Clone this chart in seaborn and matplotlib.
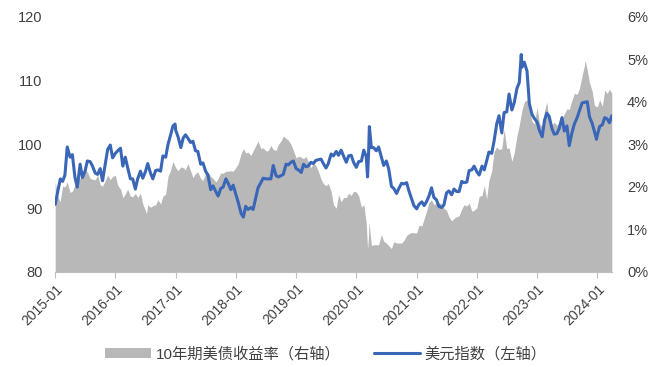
import matplotlib
matplotlib.use("Agg")
import matplotlib.pyplot as plt
import matplotlib.dates as mdates
from matplotlib.patches import Patch
from matplotlib.lines import Line2D
from matplotlib.ticker import FuncFormatter
import numpy as np
import pandas as pd
import seaborn as sns

# US dollar index, sampled on the 1st and 15th of each month (left axis)
dxy_2015 = [90.6, 92.4, 94.6, 94.2, 95.2, 99.6, 98.0, 98.4, 94.8, 93.3, 96.9, 94.8,
            95.8, 97.4, 97.3, 96.6, 95.5, 95.3, 96.2, 94.3, 97.0, 99.2, 99.9, 97.9]
dxy_2016 = [98.6, 99.0, 99.4, 96.6, 98.0, 96.4, 94.6, 94.6, 93.0, 94.6, 95.8, 94.7,
            95.7, 97.0, 95.5, 94.6, 95.9, 96.0, 95.8, 98.2, 98.0, 100.0, 101.5, 102.9]
dxy_2017 = [102.2, 101.2, 99.5, 101.0, 101.5, 101.0, 100.3, 100.5, 99.0, 98.9, 96.9, 97.1,
            95.8, 95.2, 92.9, 93.5, 92.6, 91.9, 93.1, 93.3, 94.6, 93.9, 92.9, 93.6]
dxy_2018 = [92.1, 90.9, 89.2, 88.6, 90.3, 89.8, 90.1, 89.8, 91.6, 93.2, 94.0, 94.7,
            94.6, 94.6, 94.6, 96.7, 95.1, 94.9, 95.1, 95.3, 96.9, 96.8, 97.2, 97.4]
dxy_2019 = [96.2, 96.0, 95.6, 96.9, 96.5, 96.6, 97.2, 97.0, 97.5, 97.6, 97.7, 97.0,
            96.3, 97.0, 98.5, 98.2, 98.9, 98.3, 99.1, 98.2, 97.2, 98.2, 98.3, 97.2]
dxy_2020 = [96.4, 97.3, 97.4, 99.1, 98.1, 98.5, 99.5, 99.5, 99.0, 99.6, 98.0, 96.7,
            97.4, 96.2, 93.4, 93.1, 92.3, 93.1, 93.9, 93.8, 94.0, 92.7, 91.5, 90.4]
dxy_2021 = [89.9, 90.6, 91.0, 90.4, 91.0, 91.8, 93.2, 91.7, 91.3, 90.3, 90.1, 90.5,
            92.4, 92.7, 92.1, 93.0, 92.6, 92.6, 94.2, 94.0, 94.1, 95.9, 96.0, 96.6]
dxy_2022 = [95.7, 95.2, 96.6, 96.0, 97.4, 98.8, 98.6, 100.5, 103.2, 104.5, 101.8, 105.0,
            105.1, 107.9, 105.4, 106.5, 108.8, 109.7, 112.1, 112.9, 111.5, 106.4, 104.7, 104.1]
dxy_2023 = [103.5, 102.2, 101.2, 103.8, 104.9, 104.4, 102.5, 101.6, 101.7, 102.5, 104.2, 102.1,
            102.9, 99.8, 101.9, 103.2, 104.2, 105.3, 106.5, 106.6, 106.7, 104.3, 103.3, 102.0]
dxy_2024 = [101.4, 102.8, 103.1, 104.2, 104.0, 103.4]
dxy_extra = {"2016-12-28": 103.2, "2020-03-09": 94.9, "2020-03-20": 102.8,
             "2022-09-27": 114.1, "2023-12-27": 100.8, "2024-03-29": 104.5}

# 10-year Treasury yield in percent, same sampling (right axis)
yld_2015 = [2.12, 1.80, 1.68, 2.02, 2.00, 2.12, 1.87, 1.90, 2.05, 2.20, 2.20, 2.38,
            2.40, 2.35, 2.20, 2.18, 2.17, 2.28, 2.05, 2.02, 2.15, 2.28, 2.17, 2.25]
yld_2016 = [2.27, 2.04, 1.95, 1.75, 1.83, 1.95, 1.78, 1.77, 1.85, 1.75, 1.85, 1.60,
            1.45, 1.58, 1.52, 1.56, 1.58, 1.70, 1.60, 1.78, 1.83, 2.25, 2.40, 2.60]
yld_2017 = [2.45, 2.38, 2.47, 2.45, 2.40, 2.55, 2.38, 2.22, 2.32, 2.35, 2.20, 2.15,
            2.32, 2.35, 2.25, 2.20, 2.12, 2.20, 2.33, 2.32, 2.37, 2.37, 2.38, 2.37]
yld_2018 = [2.46, 2.55, 2.78, 2.90, 2.80, 2.82, 2.74, 2.85, 2.97, 3.08, 2.90, 2.92,
            2.85, 2.85, 2.98, 2.88, 2.86, 3.00, 3.08, 3.20, 3.14, 3.10, 3.00, 2.86]
yld_2019 = [2.68, 2.72, 2.70, 2.66, 2.72, 2.60, 2.45, 2.56, 2.50, 2.38, 2.18, 2.08,
            2.03, 2.08, 1.90, 1.58, 1.50, 1.82, 1.65, 1.75, 1.75, 1.85, 1.80, 1.90]
yld_2020 = [1.88, 1.79, 1.52, 1.59, 1.15, 0.85, 0.62, 0.64, 0.64, 0.64, 0.88, 0.72,
            0.68, 0.62, 0.55, 0.71, 0.68, 0.68, 0.68, 0.74, 0.86, 0.90, 0.93, 0.92]
yld_2021 = [0.92, 1.10, 1.08, 1.25, 1.42, 1.62, 1.70, 1.58, 1.62, 1.63, 1.60, 1.50,
            1.45, 1.30, 1.20, 1.26, 1.30, 1.32, 1.48, 1.58, 1.55, 1.62, 1.43, 1.45]
yld_2022 = [1.51, 1.78, 1.80, 2.03, 1.72, 2.15, 2.38, 2.83, 2.94, 2.88, 2.90, 3.35,
            2.90, 2.92, 2.60, 2.80, 3.20, 3.45, 3.80, 4.00, 4.05, 3.80, 3.55, 3.48]
yld_2023 = [3.88, 3.50, 3.40, 3.80, 4.00, 3.50, 3.47, 3.52, 3.45, 3.52, 3.60, 3.72,
            3.84, 3.82, 4.05, 4.20, 4.18, 4.32, 4.62, 4.85, 4.75, 4.45, 4.25, 3.92]
yld_2024 = [3.88, 4.05, 3.90, 4.28, 4.20, 4.30]
yld_extra = {"2015-01-30": 1.65, "2016-07-08": 1.37, "2020-03-09": 0.54,
             "2020-03-18": 1.18, "2023-10-19": 4.98, "2024-03-29": 4.20}

years = list(range(2015, 2025))
tick_labels = [f"{y}-01" for y in years]
legend_labels = ["10年期美债收益率（右轴）", "美元指数（左轴）"]

BLUE = "#3A66B8"
GREY = "#B8B8B8"
TEXT = "#404040"

grid = pd.date_range("2015-01-01", "2024-03-15", freq="SMS")


def build(parts, extra):
    base = pd.Series(sum(parts, []), index=grid)
    add = pd.Series(list(extra.values()), index=pd.to_datetime(list(extra.keys())))
    return pd.concat([base, add]).sort_index()


dxy = build([dxy_2015, dxy_2016, dxy_2017, dxy_2018, dxy_2019,
             dxy_2020, dxy_2021, dxy_2022, dxy_2023, dxy_2024], dxy_extra)
yld = build([yld_2015, yld_2016, yld_2017, yld_2018, yld_2019,
             yld_2020, yld_2021, yld_2022, yld_2023, yld_2024], yld_extra)

dxy_df = pd.DataFrame({"date": dxy.index, "value": dxy.values})

sns.set_theme(style="white")
plt.rcParams["font.family"] = ["Liberation Sans", "Noto Sans CJK SC"]

fig, ax = plt.subplots(figsize=(6.65, 3.67), dpi=100)
fig.subplots_adjust(left=0.083, right=0.920, bottom=0.259, top=0.954)

# Yield as a shaded area on the right-hand axis
ax2 = ax.twinx()
ax2.fill_between(yld.index, 0, yld.values, color=GREY, lw=0)

# Dollar index line on the left-hand axis, kept above the area
sns.lineplot(data=dxy_df, x="date", y="value", ax=ax, color=BLUE, linewidth=2.2)
ax.set_zorder(ax2.get_zorder() + 1)
ax.patch.set_visible(False)

ax.set_xlim(pd.Timestamp("2015-01-01"), pd.Timestamp("2024-03-29"))
ax.set_ylim(80, 120)
ax.set_yticks([80, 90, 100, 110, 120])
ax2.set_ylim(0, 6)
ax2.set_yticks(range(0, 7))
ax2.yaxis.set_major_formatter(FuncFormatter(lambda v, _: f"{v:.0f}%"))

ax.set_xticks([mdates.date2num(pd.Timestamp(f"{y}-01-01")) for y in years])
ax.set_xticklabels(tick_labels, rotation=45, ha="right", rotation_mode="anchor")
ax.set_xlabel("")
ax.set_ylabel("")

for name, sp in ax.spines.items():
    sp.set_visible(name == "bottom")
ax.spines["bottom"].set_color("#BFBFBF")
ax.spines["bottom"].set_linewidth(0.8)
for sp in ax2.spines.values():
    sp.set_visible(False)

ax.tick_params(axis="x", bottom=True, length=4, width=0.8, color="#BFBFBF",
               direction="out", labelsize=10, labelcolor=TEXT, pad=3)
ax.tick_params(axis="y", left=False, length=0, labelsize=10.5, labelcolor=TEXT, pad=9)
ax2.tick_params(axis="y", right=False, length=0, labelsize=10.5, labelcolor=TEXT, pad=11)

handles = [Patch(facecolor=GREY, edgecolor="none"),
           Line2D([0], [0], color=BLUE, linewidth=2.2)]
fig.legend(handles, legend_labels, loc="center", bbox_to_anchor=(0.49, 0.035),
           ncol=2, frameon=False, fontsize=11, handlelength=3.0,
           handleheight=0.6, handletextpad=0.3, columnspacing=2.2,
           labelcolor=TEXT)

fig.savefig("out.png", dpi=100)
